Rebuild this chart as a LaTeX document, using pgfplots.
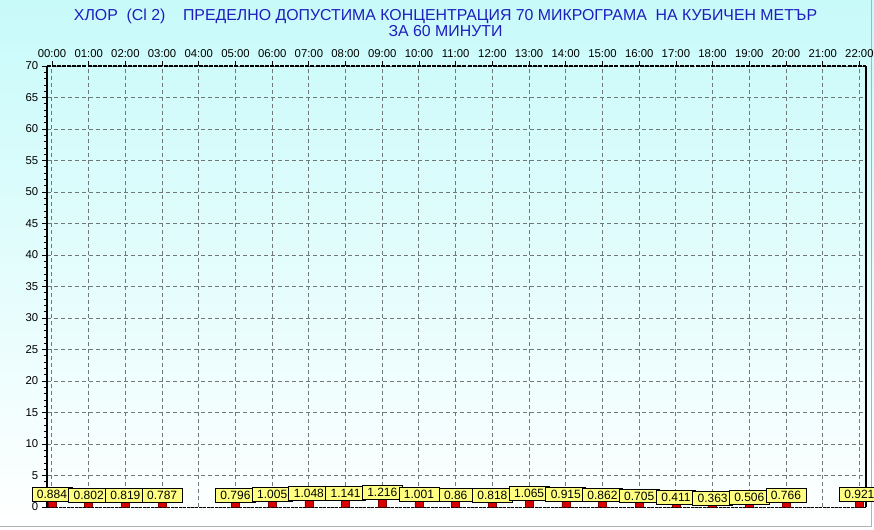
\documentclass[border=0pt]{standalone}
\usepackage{pgfplots}
\pgfplotsset{compat=1.18}
\usepackage{pgfplotstable}
\usepackage{fontspec}
\setmainfont{Liberation Sans}
\definecolor{titleblue}{RGB}{30,30,190}
\definecolor{bgtop}{RGB}{200,250,250}
\definecolor{gridgray}{RGB}{112,120,120}
\definecolor{lblyellow}{RGB}{255,255,128}
\definecolor{barred}{RGB}{215,0,0}

\pgfplotstableread{
x y lbl
0 0.884 0.884
1 0.802 0.802
2 0.819 0.819
3 0.787 0.787
5 0.796 0.796
6 1.005 1.005
7 1.048 1.048
8 1.141 1.141
9 1.216 1.216
10 1.001 1.001
11 0.86 0.86
12 0.818 0.818
13 1.065 1.065
14 0.915 0.915
15 0.862 0.862
16 0.705 0.705
17 0.411 0.411
18 0.363 0.363
19 0.506 0.506
20 0.766 0.766
22 0.921 0.921
}\datatable

\begin{document}
\begin{tikzpicture}[x=0.75pt,y=0.75pt]
\useasboundingbox (0,0) rectangle (874,529);
\clip (0,0) rectangle (874,529);
\shade[top color=bgtop,bottom color=white] (0,0) rectangle (874,529);
\draw[gray!60, line width=0.75pt] (0,3) -- (871,3) -- (871,529);
\node[text=titleblue, font=\fontsize{11.9}{13}\selectfont] at (445.5,513) {ХЛОР\ \ (Cl 2)\ \ \ \ ПРЕДЕЛНО ДОПУСТИМА КОНЦЕНТРАЦИЯ 70 МИКРОГРАМА\ \ НА КУБИЧЕН МЕТЪР};
\node[text=titleblue, font=\fontsize{11.9}{13}\selectfont] at (445.5,497.5) {ЗА 60 МИНУТИ};
\begin{axis}[
  at={(35.25pt,16.5pt)}, anchor=south west,
  width=614.25pt, height=330.75pt, scale only axis,
  xmin=-0.136, xmax=22.18, ymin=0, ymax=70,
  clip=false,
  axis line style={draw=none},
  xtick={0,...,22},
  xticklabels={00:00,01:00,02:00,03:00,04:00,05:00,06:00,07:00,08:00,09:00,10:00,11:00,12:00,13:00,14:00,15:00,16:00,17:00,18:00,19:00,20:00,21:00,22:00},
  xtick pos=right, xticklabel pos=right,
  ytick={0,5,...,70},
  ytick pos=left,
  minor y tick num=4,
  tick align=outside,
  major tick length=3.5pt, minor tick length=2pt,
  tick style={black, line width=0.6pt},
  /pgf/number format/assume math mode=true,
  tick label style={font=\fontsize{8.5}{9}\selectfont},
  xticklabel style={yshift=-0.5pt},
  yticklabel style={xshift=0.5pt},
  xmajorgrids, ymajorgrids,
  major grid style={gridgray, line width=0.75pt, dash pattern=on 3pt off 2.25pt},
  ybar, bar width=6pt, bar shift=0pt,
  point meta=explicit symbolic,
  nodes near coords,
  every node near coord/.append style={font=\fontsize{9}{9}\selectfont, fill=lblyellow, draw=black, line width=0.6pt, inner xsep=3.8pt, inner ysep=2pt, text=black, anchor=south, yshift=-0.5pt},
]
\addplot[fill=barred, draw=barred!60!black, line width=0.4pt] table[x=x, y=y, meta=lbl] {\datatable};
\draw[black, line width=1.5pt] (rel axis cs:0,0) -- (rel axis cs:0,1);
\draw[black, line width=1.2pt, dash pattern=on 3pt off 0.8pt] (rel axis cs:0,1) -- (rel axis cs:1,1);
\draw[black, line width=1.2pt] (rel axis cs:1,1) -- (rel axis cs:1,0);
\draw[black, line width=0.6pt, dash pattern=on 2pt off 1pt] (rel axis cs:0,0) -- (rel axis cs:1,0);
\end{axis}
\end{tikzpicture}
\end{document}
